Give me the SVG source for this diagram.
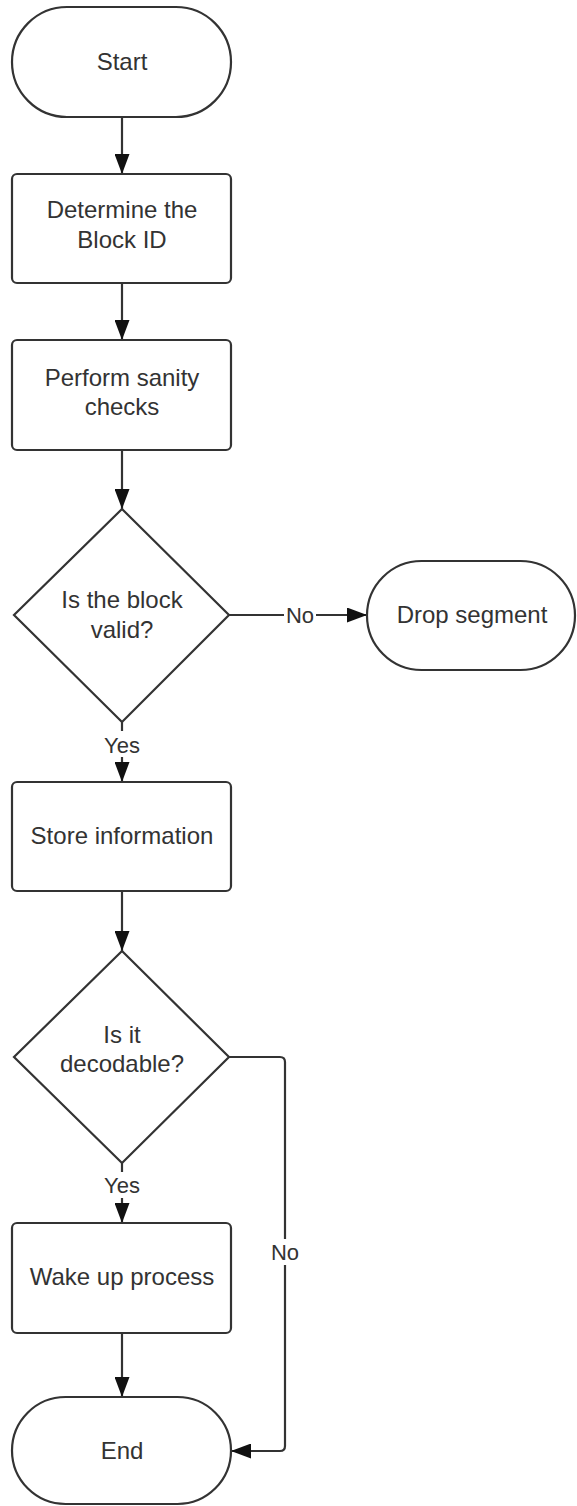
<svg xmlns="http://www.w3.org/2000/svg" width="577" height="1506" viewBox="0 0 577 1506">
  <style>
    .shape { fill: #ffffff; stroke: #333333; stroke-width: 2.2; }
    .txt { font-family: "Liberation Sans", Arial, sans-serif; font-size: 24px; fill: #333333; text-anchor: middle; }
    .lbl { font-family: "Liberation Sans", Arial, sans-serif; font-size: 22px; fill: #333333; text-anchor: middle; }
    .edge { fill: none; stroke: #333333; stroke-width: 2.2; }
    .gap { fill: #ffffff; stroke: none; }
  </style>
  <defs>
    <marker id="arrow" markerUnits="userSpaceOnUse" markerWidth="20" markerHeight="15" refX="20" refY="7.5" orient="auto">
      <path d="M0,0 L20,7.5 L0,15 z" fill="#111111"/>
    </marker>
  </defs>
  <rect width="577" height="1506" fill="#ffffff"/>

  <!-- connectors -->
  <g id="connectors">
    <line class="edge" x1="122" y1="117" x2="122" y2="174" marker-end="url(#arrow)"/>
    <line class="edge" x1="122" y1="283" x2="122" y2="340" marker-end="url(#arrow)"/>
    <line class="edge" x1="122" y1="450" x2="122" y2="509" marker-end="url(#arrow)"/>
    <!-- valid? No -->
    <line class="edge" x1="229" y1="615" x2="367" y2="615" marker-end="url(#arrow)"/>
    <rect class="gap" x="284" y="603" width="32" height="24"/>
    <text class="lbl" x="300" y="623">No</text>
    <!-- valid? Yes -->
    <line class="edge" x1="122" y1="722" x2="122" y2="782" marker-end="url(#arrow)"/>
    <rect class="gap" x="102" y="731" width="40" height="26"/>
    <text class="lbl" x="122" y="753">Yes</text>
    <line class="edge" x1="122" y1="891" x2="122" y2="951" marker-end="url(#arrow)"/>
    <!-- decodable? Yes -->
    <line class="edge" x1="122" y1="1163" x2="122" y2="1223" marker-end="url(#arrow)"/>
    <rect class="gap" x="102" y="1172" width="40" height="26"/>
    <text class="lbl" x="122" y="1193">Yes</text>
    <line class="edge" x1="122" y1="1333" x2="122" y2="1397" marker-end="url(#arrow)"/>
    <!-- decodable? No -->
    <path class="edge" d="M229,1057 H280 Q285,1057 285,1062 V1446 Q285,1451 280,1451 H231" marker-end="url(#arrow)"/>
    <rect class="gap" x="269" y="1239" width="32" height="26"/>
    <text class="lbl" x="285" y="1260">No</text>
  </g>

  <g id="start">
    <rect class="shape" x="12" y="7" width="219" height="110" rx="55" ry="55"/>
    <text class="txt" x="122" y="70">Start</text>
  </g>

  <g id="determine-block-id">
    <rect class="shape" x="12" y="174" width="219" height="109" rx="5" ry="5"/>
    <text class="txt" x="122" y="218">Determine the</text>
    <text class="txt" x="122" y="248">Block ID</text>
  </g>

  <g id="sanity-checks">
    <rect class="shape" x="12" y="340" width="219" height="110" rx="5" ry="5"/>
    <text class="txt" x="122" y="386">Perform sanity</text>
    <text class="txt" x="122" y="415">checks</text>
  </g>

  <g id="block-valid">
    <polygon class="shape" points="122,509 229,615 122,722 14,615"/>
    <text class="txt" x="122" y="608">Is the block</text>
    <text class="txt" x="122" y="638">valid?</text>
  </g>

  <g id="drop-segment">
    <rect class="shape" x="367" y="561" width="208" height="109" rx="54.5" ry="54.5"/>
    <text class="txt" x="472" y="623">Drop segment</text>
  </g>

  <g id="store-information">
    <rect class="shape" x="12" y="782" width="219" height="109" rx="5" ry="5"/>
    <text class="txt" x="122" y="844">Store information</text>
  </g>

  <g id="decodable">
    <polygon class="shape" points="122,951 229,1057 122,1163 14,1057"/>
    <text class="txt" x="122" y="1043">Is it</text>
    <text class="txt" x="122" y="1072">decodable?</text>
  </g>

  <g id="wake-up-process">
    <rect class="shape" x="12" y="1223" width="219" height="110" rx="5" ry="5"/>
    <text class="txt" x="122" y="1285">Wake up process</text>
  </g>

  <g id="end">
    <rect class="shape" x="12" y="1397" width="219" height="107" rx="53.5" ry="53.5"/>
    <text class="txt" x="122" y="1459">End</text>
  </g>
</svg>
